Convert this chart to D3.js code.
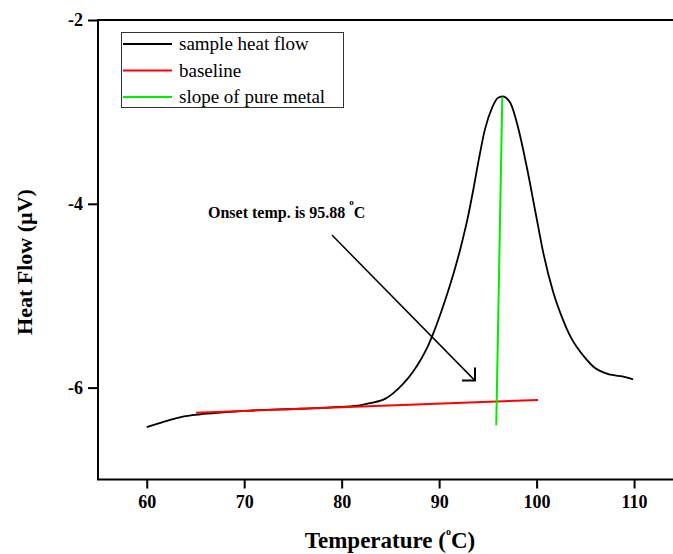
<!DOCTYPE html>
<html>
<head>
<meta charset="utf-8">
<script src="https://cdn.jsdelivr.net/npm/d3@7"></script>
<style>
  html, body { margin: 0; padding: 0; background: #fff; }
  svg { display: block; }
  text { font-family: "Liberation Serif", "Times New Roman", serif; }
</style>
</head>
<body>
<svg id="chart" width="673" height="554"></svg>
<script>
// ---------------- data ----------------
const temps = [60.0, 61.5, 62.4, 63.5, 65.5, 67.8, 70.6, 75.7, 79.8, 82.0, 82.9, 84.5, 85.3, 86.3, 87.3, 88.2, 88.8, 89.4, 90.1, 90.8, 91.5, 92.2, 92.9, 93.5, 94.1, 94.7, 95.45, 96.0, 96.5, 97.3, 98.1, 99.05, 99.9, 100.7, 101.7, 102.7, 103.5, 104.2, 105.0, 105.8, 107.6, 108.9, 109.9];
const heatFlow = [-6.43, -6.38, -6.35, -6.32, -6.29, -6.27, -6.25, -6.23, -6.21, -6.19, -6.17, -6.12, -6.06, -5.96, -5.83, -5.68, -5.56, -5.41, -5.21, -4.99, -4.75, -4.48, -4.17, -3.85, -3.50, -3.19, -2.95, -2.85, -2.83, -2.90, -3.17, -3.63, -4.10, -4.54, -4.96, -5.26, -5.45, -5.57, -5.68, -5.77, -5.86, -5.88, -5.91];
const baselineT = [65.06, 100.15];
const baselineV = [-6.273, -6.134];
const slopeT = [95.86, 96.48];
const slopeV = [-6.41, -2.84];
const xTicks = [60, 70, 80, 90, 100, 110];
const yTicks = [-2, -4, -6];
const legendLabels = ["sample heat flow", "baseline", "slope of pure metal"];
const legendColors = ["#000000", "#ff0000", "#00ee00"];
const arrowT = [79.0, 93.68];
const arrowV = [-4.34, -5.924];

// ---------------- scales ----------------
const svg = d3.select("#chart");
const x = d3.scaleLinear().domain([55, 115]).range([98, 682.8]);
const y = d3.scaleLinear().domain([-7, -2]).range([479.5, 20]);

// frame
svg.append("rect")
  .attr("x", x(55)).attr("y", y(-2))
  .attr("width", x(115) - x(55)).attr("height", y(-7) - y(-2))
  .attr("fill", "none").attr("stroke", "#000").attr("stroke-width", 2);

// axes
const xAxis = d3.axisBottom(x).tickValues(xTicks).tickSize(9).tickSizeOuter(0).tickFormat(d => String(d));
const gx = svg.append("g").attr("transform", `translate(0,${y(-7)})`).call(xAxis);
gx.select(".domain").remove();
gx.selectAll(".tick line").attr("stroke", "#000").attr("stroke-width", 2);
gx.selectAll(".tick text")
  .attr("y", 16).attr("dy", "0.71em")
  .style("font-family", "'Liberation Serif', serif")
  .style("font-weight", "bold").style("font-size", "18px").attr("fill", "#000");

const yAxis = d3.axisLeft(y).tickValues(yTicks).tickSize(10).tickSizeOuter(0).tickFormat(d => String(d));
const gy = svg.append("g").attr("transform", `translate(${x(55)},0)`).call(yAxis);
gy.select(".domain").remove();
gy.selectAll(".tick line").attr("stroke", "#000").attr("stroke-width", 2);
gy.selectAll(".tick text")
  .attr("x", -15)
  .style("font-family", "'Liberation Serif', serif")
  .style("font-weight", "bold").style("font-size", "18px").attr("fill", "#000");

// axis titles
const xt = svg.append("text")
  .attr("x", 390).attr("y", 548)
  .attr("text-anchor", "middle")
  .style("font-weight", "bold").style("font-size", "23px");
xt.append("tspan").text("Temperature (");
xt.append("tspan").text("o").style("font-size", "10px").attr("dy", -13);
xt.append("tspan").text("C)").attr("dy", 13);

svg.append("text")
  .attr("transform", `translate(32,262) rotate(-90)`)
  .attr("text-anchor", "middle")
  .style("font-weight", "bold").style("font-size", "22px")
  .text("Heat Flow (\u00B5V)");

// lines
const smooth = d3.line().x(d => x(d[0])).y(d => y(d[1])).curve(d3.curveMonotoneX);
svg.append("path")
  .datum(temps.map((t, i) => [t, heatFlow[i]]))
  .attr("d", smooth)
  .attr("fill", "none").attr("stroke", "#000").attr("stroke-width", 1.8);

const straight = d3.line().x(d => x(d[0])).y(d => y(d[1]));
svg.append("path")
  .datum(baselineT.map((t, i) => [t, baselineV[i]]))
  .attr("d", straight)
  .attr("fill", "none").attr("stroke", "#ff0000").attr("stroke-width", 2);

svg.append("path")
  .datum(slopeT.map((t, i) => [t, slopeV[i]]))
  .attr("d", straight)
  .attr("fill", "none").attr("stroke", "#00ee00").attr("stroke-width", 2);

// annotation arrow
const ax0 = x(arrowT[0]), ay0 = y(arrowV[0]), ax1 = x(arrowT[1]), ay1 = y(arrowV[1]);
svg.append("line")
  .attr("x1", ax0).attr("y1", ay0).attr("x2", ax1).attr("y2", ay1)
  .attr("stroke", "#000").attr("stroke-width", 1.5);
svg.append("path")
  .attr("d", `M${ax1},${ay1 - 13}L${ax1},${ay1}L${ax1 - 13},${ay1}`)
  .attr("fill", "none").attr("stroke", "#000").attr("stroke-width", 2);

const at = svg.append("text")
  .attr("x", 208).attr("y", 218)
  .style("font-weight", "bold").style("font-size", "16px");
at.append("tspan").text("Onset temp. is 95.88 ");
at.append("tspan").text("o").style("font-size", "9px").attr("dy", -13);
at.append("tspan").text("C").attr("dy", 13);

// legend
const lg = svg.append("g");
lg.append("rect")
  .attr("x", 121.5).attr("y", 32.5).attr("width", 222).attr("height", 75)
  .attr("fill", "#fff").attr("stroke", "#333").attr("stroke-width", 1);
const rowsY = [44, 70.5, 97];
legendLabels.forEach((lab, i) => {
  lg.append("line")
    .attr("x1", 123).attr("x2", 172).attr("y1", rowsY[i]).attr("y2", rowsY[i])
    .attr("stroke", legendColors[i]).attr("stroke-width", 2);
  lg.append("text")
    .attr("x", 179).attr("y", rowsY[i]).attr("dy", "0.33em")
    .style("font-size", "19px").attr("fill", "#000")
    .text(lab);
});
</script>
</body>
</html>
